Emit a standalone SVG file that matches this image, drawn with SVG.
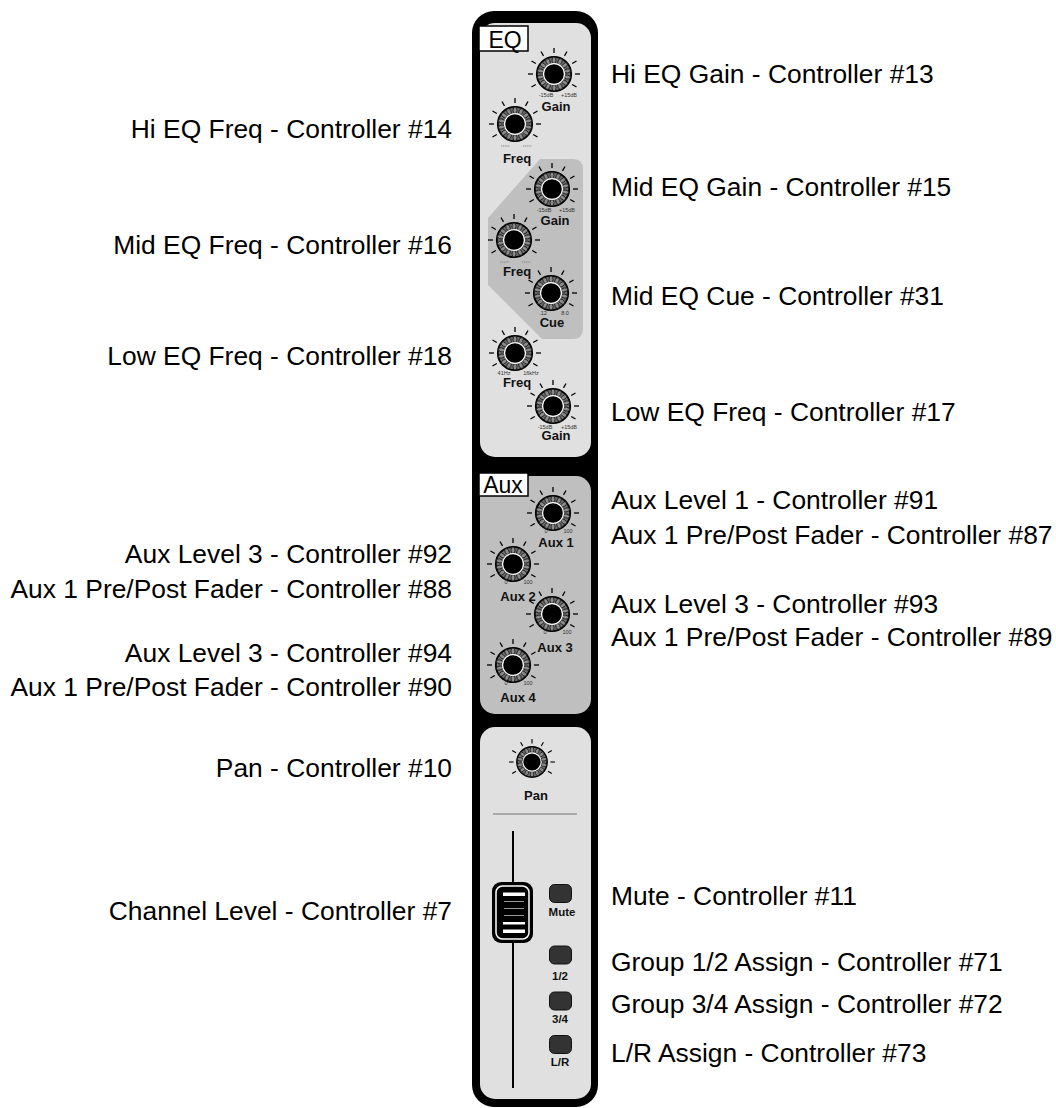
<svg xmlns="http://www.w3.org/2000/svg" xmlns:xlink="http://www.w3.org/1999/xlink" width="1056" height="1108" viewBox="0 0 1056 1108">
<style>
.lbl{font-family:"Liberation Sans",Arial,Helvetica,sans-serif;font-size:26.4px;fill:#000}
.lblL{text-anchor:end}
.kl{font-family:"Liberation Sans",Arial,Helvetica,sans-serif;font-size:13px;font-weight:bold;fill:#111;text-anchor:middle}
.bl{font-family:"Liberation Sans",Arial,Helvetica,sans-serif;font-size:11.5px;font-weight:bold;fill:#111;text-anchor:middle}
.tk{font-family:"Liberation Sans",Arial,Helvetica,sans-serif;font-size:5.5px;fill:#333;text-anchor:middle}
.sec{font-family:"Liberation Sans",Arial,Helvetica,sans-serif;font-size:23px;fill:#000;text-anchor:middle}
.panel{fill:#e0e0e0}
.shade{fill:#bfbfbf}
.btn{fill:#333;stroke:#111;stroke-width:1}
.tick{stroke:#000;stroke-width:1.3}
.garble{stroke:#888;stroke-width:1;stroke-dasharray:1.2 0.6}
</style>
<defs>
<g id="knob">
<g class="tick">
<line x1="0" y1="-21" x2="0" y2="-26" transform="rotate(-120)"/>
<line x1="0" y1="-21" x2="0" y2="-26" transform="rotate(-90)"/>
<line x1="0" y1="-21" x2="0" y2="-26" transform="rotate(-60)"/>
<line x1="0" y1="-21" x2="0" y2="-26" transform="rotate(-30)"/>
<line x1="0" y1="-21" x2="0" y2="-26"/>
<line x1="0" y1="-21" x2="0" y2="-26" transform="rotate(30)"/>
<line x1="0" y1="-21" x2="0" y2="-26" transform="rotate(60)"/>
<line x1="0" y1="-21" x2="0" y2="-26" transform="rotate(90)"/>
<line x1="0" y1="-21" x2="0" y2="-26" transform="rotate(120)"/>
</g>
<circle r="17.2" fill="#6e6e6e" stroke="#000" stroke-width="1.8"/>
<g fill="#8a8a8a" stroke="#111" stroke-width="0.8">
<ellipse cx="0" cy="-13.8" rx="2" ry="3.2"/>
<ellipse cx="0" cy="-13.8" rx="2" ry="3.2" transform="rotate(25.7)"/>
<ellipse cx="0" cy="-13.8" rx="2" ry="3.2" transform="rotate(51.4)"/>
<ellipse cx="0" cy="-13.8" rx="2" ry="3.2" transform="rotate(77.1)"/>
<ellipse cx="0" cy="-13.8" rx="2" ry="3.2" transform="rotate(102.9)"/>
<ellipse cx="0" cy="-13.8" rx="2" ry="3.2" transform="rotate(128.6)"/>
<ellipse cx="0" cy="-13.8" rx="2" ry="3.2" transform="rotate(154.3)"/>
<ellipse cx="0" cy="-13.8" rx="2" ry="3.2" transform="rotate(180)"/>
<ellipse cx="0" cy="-13.8" rx="2" ry="3.2" transform="rotate(205.7)"/>
<ellipse cx="0" cy="-13.8" rx="2" ry="3.2" transform="rotate(231.4)"/>
<ellipse cx="0" cy="-13.8" rx="2" ry="3.2" transform="rotate(257.1)"/>
<ellipse cx="0" cy="-13.8" rx="2" ry="3.2" transform="rotate(282.9)"/>
<ellipse cx="0" cy="-13.8" rx="2" ry="3.2" transform="rotate(308.6)"/>
<ellipse cx="0" cy="-13.8" rx="2" ry="3.2" transform="rotate(334.3)"/>
</g>
<circle r="11" fill="#fff"/>
<circle r="9.8" fill="#000"/>
</g>
</defs>

<g id="strip">
<rect x="472" y="11" width="126" height="1096" rx="22" fill="#000"/>
<rect class="panel" x="480" y="23" width="111" height="434" rx="15"/>
<path class="shade" d="M540,159 L573,159 Q583,159 583,169 L583,329 Q583,339 573,339 L542,339 L488,285 L488,218 Z"/>
<rect class="shade" x="480" y="476" width="111" height="238" rx="15"/>
<rect class="panel" x="480" y="727" width="111" height="372" rx="15"/>
<line x1="493" y1="814" x2="577" y2="814" stroke="#aaa" stroke-width="2"/>
</g>

<g id="eq-box">
<rect x="479" y="26" width="49" height="25" fill="#fff" stroke="#000" stroke-width="1.5"/>
<text class="sec" x="505" y="48">EQ</text>
</g>
<g id="aux-box">
<rect x="479" y="473" width="49" height="23" fill="#fff" stroke="#000" stroke-width="1.5"/>
<text class="sec" x="503" y="493">Aux</text>
</g>

<g id="hi-gain">
<use xlink:href="#knob" href="#knob" x="554" y="74"/>
<text class="tk" x="546" y="97">-15dB</text><text class="tk" x="569" y="97">+15dB</text>
<text class="kl" x="556" y="111">Gain</text>
</g>
<g id="hi-freq">
<use xlink:href="#knob" href="#knob" x="515" y="124"/>
<line class="garble" x1="501" y1="146" x2="510" y2="146"/><line class="garble" x1="523" y1="146" x2="532" y2="146"/>
<text class="kl" x="517" y="163">Freq</text>
</g>
<g id="mid-gain">
<use xlink:href="#knob" href="#knob" x="552" y="189"/>
<text class="tk" x="544" y="212">-15dB</text><text class="tk" x="567" y="212">+15dB</text>
<text class="kl" x="555" y="225">Gain</text>
</g>
<g id="mid-freq">
<use xlink:href="#knob" href="#knob" x="514" y="240"/>
<line class="garble" x1="500" y1="262" x2="509" y2="262"/><line class="garble" x1="522" y1="262" x2="531" y2="262"/>
<text class="kl" x="517" y="276">Freq</text>
</g>
<g id="mid-cue">
<use xlink:href="#knob" href="#knob" x="551" y="293"/>
<text class="tk" x="543" y="315">.12</text><text class="tk" x="565" y="315">8.0</text>
<text class="kl" x="552" y="327">Cue</text>
</g>
<g id="low-freq">
<use xlink:href="#knob" href="#knob" x="515" y="353"/>
<text class="tk" x="504" y="375">41Hz</text><text class="tk" x="531" y="375">16kHz</text>
<text class="kl" x="517" y="387">Freq</text>
</g>
<g id="low-gain">
<use xlink:href="#knob" href="#knob" x="553" y="406"/>
<text class="tk" x="545" y="429">-15dB</text><text class="tk" x="569" y="429">+15dB</text>
<text class="kl" x="556" y="440">Gain</text>
</g>

<g id="aux1">
<use xlink:href="#knob" href="#knob" x="553" y="513"/>
<text class="tk" x="546" y="533">0</text><text class="tk" x="568" y="533">100</text>
<text class="kl" x="556" y="547">Aux 1</text>
</g>
<g id="aux2">
<use xlink:href="#knob" href="#knob" x="513" y="564"/>
<text class="tk" x="506" y="584">0</text><text class="tk" x="528" y="584">100</text>
<text class="kl" x="518" y="601">Aux 2</text>
</g>
<g id="aux3">
<use xlink:href="#knob" href="#knob" x="552" y="614"/>
<text class="tk" x="545" y="634">0</text><text class="tk" x="567" y="634">100</text>
<text class="kl" x="555" y="652">Aux 3</text>
</g>
<g id="aux4">
<use xlink:href="#knob" href="#knob" x="513" y="665"/>
<text class="tk" x="506" y="685">0</text><text class="tk" x="528" y="685">100</text>
<text class="kl" x="518" y="702">Aux 4</text>
</g>

<g id="pan">
<use xlink:href="#knob" href="#knob" transform="translate(532,762) scale(0.88)"/>
<text class="kl" x="536" y="800">Pan</text>
</g>

<g id="fader">
<line x1="513" y1="831" x2="513" y2="1088" stroke="#000" stroke-width="2"/>
<rect x="492" y="882" width="41" height="61" rx="9" fill="#000"/>
<rect x="496" y="886" width="33" height="53" rx="6.5" fill="none" stroke="#fff" stroke-width="1.5"/>
<rect x="503" y="892.5" width="22" height="3.5" fill="#fff"/>
<line x1="504" y1="901.5" x2="524" y2="901.5" stroke="#999" stroke-width="1"/>
<line x1="504" y1="908.5" x2="524" y2="908.5" stroke="#999" stroke-width="1"/>
<line x1="504" y1="915.5" x2="524" y2="915.5" stroke="#999" stroke-width="1"/>
<rect x="503" y="922" width="22" height="2.5" fill="#fff"/>
<rect x="503" y="929.5" width="22" height="3.5" fill="#fff"/>
</g>

<g id="btn-mute"><rect class="btn" x="549.5" y="884.5" width="22" height="18" rx="5"/><text class="bl" x="562" y="916">Mute</text></g>
<g id="btn-12"><rect class="btn" x="549.5" y="946" width="22" height="18" rx="5"/><text class="bl" x="560" y="980">1/2</text></g>
<g id="btn-34"><rect class="btn" x="549.5" y="992" width="22" height="18" rx="5"/><text class="bl" x="560" y="1023">3/4</text></g>
<g id="btn-lr"><rect class="btn" x="549.5" y="1035.5" width="22" height="18" rx="5"/><text class="bl" x="560" y="1066">L/R</text></g>

<g id="labels-right">
<g id="lbl-r13"><text class="lbl" x="611" y="83">Hi EQ Gain - Controller #13</text></g>
<g id="lbl-r15"><text class="lbl" x="611" y="196">Mid EQ Gain - Controller #15</text></g>
<g id="lbl-r31"><text class="lbl" x="611" y="305">Mid EQ Cue - Controller #31</text></g>
<g id="lbl-r17"><text class="lbl" x="611" y="421">Low EQ Freq - Controller #17</text></g>
<g id="lbl-r91"><text class="lbl" x="611" y="509">Aux Level 1 - Controller #91</text></g>
<g id="lbl-r87"><text class="lbl" x="611" y="544">Aux 1 Pre/Post Fader - Controller #87</text></g>
<g id="lbl-r93"><text class="lbl" x="611" y="613">Aux Level 3 - Controller #93</text></g>
<g id="lbl-r89"><text class="lbl" x="611" y="646">Aux 1 Pre/Post Fader - Controller #89</text></g>
<g id="lbl-r11"><text class="lbl" x="611" y="905">Mute - Controller #11</text></g>
<g id="lbl-r71"><text class="lbl" x="611" y="971">Group 1/2 Assign - Controller #71</text></g>
<g id="lbl-r72"><text class="lbl" x="611" y="1013">Group 3/4 Assign - Controller #72</text></g>
<g id="lbl-r73"><text class="lbl" x="611" y="1062">L/R Assign - Controller #73</text></g>
</g>
<g id="labels-left">
<g id="lbl-l14"><text class="lbl lblL" x="452" y="138">Hi EQ Freq - Controller #14</text></g>
<g id="lbl-l16"><text class="lbl lblL" x="452" y="254">Mid EQ Freq - Controller #16</text></g>
<g id="lbl-l18"><text class="lbl lblL" x="452" y="365">Low EQ Freq - Controller #18</text></g>
<g id="lbl-l92"><text class="lbl lblL" x="452" y="563">Aux Level 3 - Controller #92</text></g>
<g id="lbl-l88"><text class="lbl lblL" x="452" y="598">Aux 1 Pre/Post Fader - Controller #88</text></g>
<g id="lbl-l94"><text class="lbl lblL" x="452" y="662">Aux Level 3 - Controller #94</text></g>
<g id="lbl-l90"><text class="lbl lblL" x="452" y="696">Aux 1 Pre/Post Fader - Controller #90</text></g>
<g id="lbl-l10"><text class="lbl lblL" x="452" y="777">Pan - Controller #10</text></g>
<g id="lbl-l7"><text class="lbl lblL" x="452" y="920">Channel Level - Controller #7</text></g>
</g>
<g id="connectors"/>
</svg>
